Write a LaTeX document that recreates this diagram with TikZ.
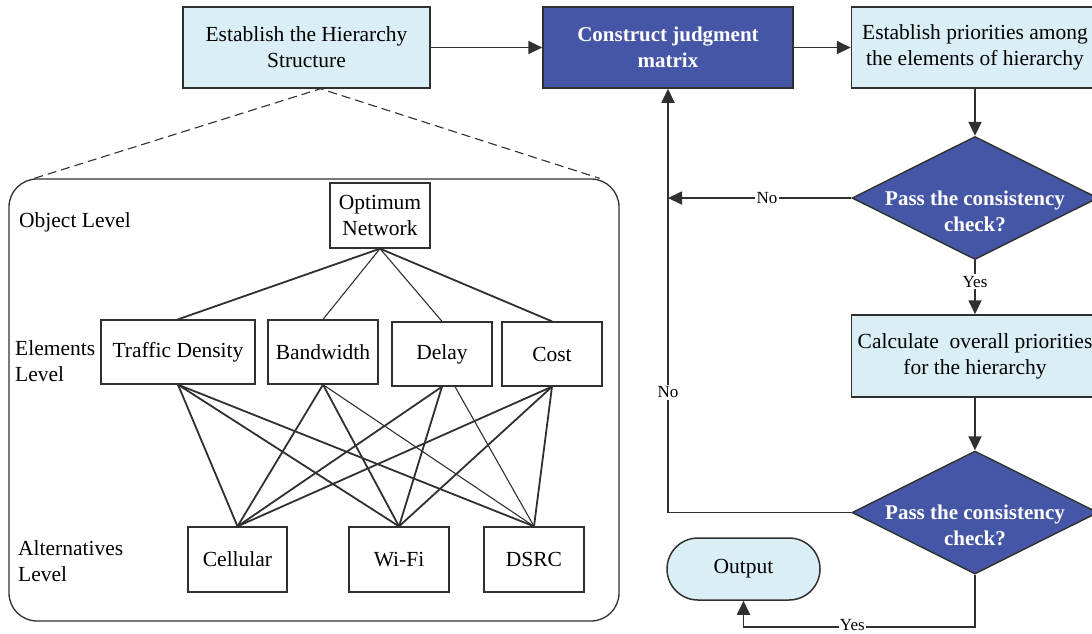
\documentclass[tikz,border=0pt]{standalone}
\usepackage{fontspec}
\setmainfont{Liberation Serif}
\usetikzlibrary{arrows.meta,shapes.geometric,calc}
\definecolor{lb}{HTML}{DAEEF5}
\definecolor{db}{HTML}{4656A6}
\definecolor{ln}{HTML}{303030}
\begin{document}
\begin{tikzpicture}[x=1pt,y=-1pt,
  every node/.style={font=\fontsize{21.5}{26}\selectfont},
  lbox/.style={draw=ln, line width=1.5pt, fill=lb, minimum width=247pt, minimum height=81pt, align=center, inner sep=0pt},
  dbox/.style={draw=ln, line width=1.5pt, fill=db, text=white, minimum width=250pt, minimum height=81pt, align=center, inner sep=0pt, font=\bfseries\fontsize{21}{26}\selectfont},
  dia/.style={diamond, draw=ln, fill=db, line width=1.4pt, minimum width=246pt, minimum height=123pt, inner sep=0pt},
  dtext/.style={text=white, align=center, inner sep=0pt, font=\bfseries\fontsize{21}{26}\selectfont},
  wbox/.style={draw=ln, line width=1.3pt, fill=white, minimum height=64pt, align=center, inner sep=0pt},
  lvl/.style={anchor=west, align=left, inner sep=0pt},
  arr/.style={draw=ln, line width=1.8pt, -{Triangle[length=14pt,width=13pt]}},
  lbl/.style={fill=white, inner sep=2pt, font=\fontsize{17}{20}\selectfont},
  thk/.style={draw=ln, line width=1.8pt},
  thn/.style={draw=ln, line width=1.1pt}
]
\useasboundingbox (0,0) rectangle (1092,633);

% flowchart
\node[lbox] (b1) at (306.5,47.5) {Establish the Hierarchy\\Structure};
\node[dbox] (b2) at (668,47.5) {Construct judgment\\matrix};
\node[lbox] (b3) at (975,47.5) {Establish priorities among\\the elements of hierarchy};
\node[dia] (d1) at (975,198) {};
\node[dtext] (d1t) at (975,211) {Pass the consistency\\check?};
\node[lbox, minimum height=82pt] (b4) at (975,356) {Calculate~ overall priorities\\for the hierarchy};
\node[dia] (d2) at (975,512.5) {};
\node[dtext] (d2t) at (975,525) {Pass the consistency\\check?};
\node[draw=ln, line width=1.5pt, fill=lb, rounded corners=31pt, minimum width=153pt, minimum height=62pt, inner sep=0pt] (out) at (743.5,569) {Output};

\coordinate (j1) at (b2.center |- d1.west);
\coordinate (j2) at ($(d2.south)+(0,52)$);

\draw[arr] (b1) -- (b2);
\draw[arr] (b2) -- (b3);
\draw[arr] (b3) -- (d1);
\draw[arr] (d1.south) -- node[lbl, pos=0.4] {Yes} (b4.north);
\draw[arr] (b4) -- (d2);
\draw[arr] (d1.west) -- node[lbl, pos=0.46] {No} (j1);
\draw[arr] (d2.west) -| node[lbl, pos=0.642] {No} (b2.south);
\draw[arr] (d2.south) -- (j2) -- node[lbl, pos=0.53, inner sep=1pt, yshift=1.5pt] {Yes} (j2 -| out.south) -- (out.south);

% hierarchy frame
\node[draw=ln, line width=1.3pt, rounded corners=28pt, minimum width=610pt, minimum height=442pt, inner sep=0pt] (hier) at (314,400) {};
\coordinate (apex) at ([xshift=14pt]b1.south);
\draw[ln, line width=1.1pt, dash pattern=on 9pt off 5pt] ([xshift=26pt]hier.north west) -- (apex) -- ([xshift=-20pt]hier.north east);

\node[lvl] (lo) at (19,222) {Object Level};
\node[lvl] (le) at (15,361) {Elements\\Level};
\node[lvl] (la) at (18,561) {Alternatives\\Level};

\node[wbox, minimum width=100pt, minimum height=65pt] (opt) at (380,215.5) {Optimum\\Network};
\node[wbox, minimum width=154pt] (td) at (178,352) {Traffic Density};
\node[wbox, minimum width=110pt] (bw) at (323,352) {Bandwidth};
\node[wbox, minimum width=100pt] (dl) at (442,354) {Delay};
\node[wbox, minimum width=100pt] (co) at (552,354) {Cost};
\node[wbox, minimum width=99pt, minimum height=65pt] (ce) at (237.5,559.5) {Cellular};
\node[wbox, minimum width=100pt, minimum height=65pt] (wf) at (399,559.5) {Wi-Fi};
\node[wbox, minimum width=100pt, minimum height=65pt] (ds) at (534,559.5) {DSRC};

\draw[thk] (opt.south) -- (td.north);
\draw[thn] (opt.south) -- (bw.north);
\draw[thn] (opt.south) -- (dl.north);
\draw[thk] (opt.south) -- (co.north);

\draw[thk] (td.south) -- (ce.north);
\draw[thk] (td.south) -- (wf.north);
\draw[thk] (td.south) -- (ds.north);
\draw[thk] (bw.south) -- (ce.north);
\draw[thk] (bw.south) -- (wf.north);
\draw[thn] (bw.south) -- (ds.north);
\draw[thk] (dl.south) -- (ce.north);
\draw[thk] (dl.south) -- (wf.north);
\draw[thn] ([xshift=13pt]dl.south) -- (ds.north);
\draw[thk] (co.south) -- (ce.north);
\draw[thk] (co.south) -- (wf.north);
\draw[thk] (co.south) -- (ds.north);
\end{tikzpicture}
\end{document}
